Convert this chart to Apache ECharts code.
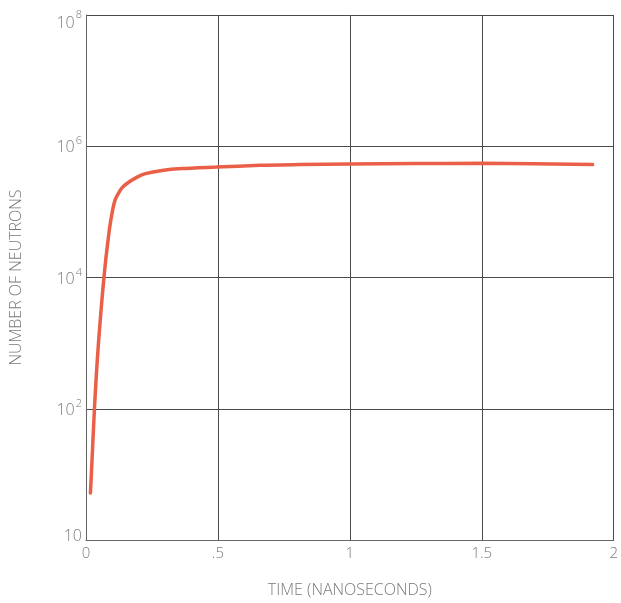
<!DOCTYPE html>
<html>
<head>
<meta charset="utf-8">
<script src="https://cdn.jsdelivr.net/npm/echarts@6/dist/echarts.min.js"></script>
<style>
html,body{margin:0;padding:0;background:#fff;}
#c{width:621px;height:603px;}
</style>
</head>
<body>
<div id="c"></div>
<script>
// Time in nanoseconds
var timeNs = [0.0168, 0.0243, 0.0318, 0.0393, 0.0467, 0.0542, 0.0609, 0.0673, 0.0748, 0.0822, 0.0897, 0.101, 0.110, 0.1196, 0.138, 0.163, 0.194, 0.225, 0.288, 0.363, 0.493, 0.66, 0.81, 1.0, 1.25, 1.5, 1.92];
// Number of neutrons
var neutrons = [5.2, 22, 97, 333, 933, 2280, 4860, 9330, 18600, 33300, 57700, 107000, 151000, 182000, 236000, 285000, 339000, 382000, 428000, 457000, 481000, 513000, 525000, 537000, 545000, 550000, 525000];
// Tick labels
var xTickValues = [0, 0.5, 1, 1.5, 2];
var xTickLabels = ['0', '.5', '1', '1.5', '2'];
var yTickExponents = [0, 2, 4, 6, 8];
var yTickBase = ['10', '10', '10', '10', '10'];
var yTickSup = ['', '2', '4', '6', '8'];

var FONT = 'Open Sans';
var GREY = '#7a7a7a';

var data = timeNs.map(function (t, i) { return [t, neutrons[i]]; });

var chart = echarts.init(document.getElementById('c'), null, {renderer: 'canvas'});
chart.setOption({
  backgroundColor: '#fff',
  animation: false,
  grid: {left: 83, right: 3, top: 15, bottom: 53, containLabel: false},
  xAxis: {
    type: 'value',
    min: 0, max: 2, interval: 0.5,
    name: 'TIME (NANOSECONDS)',
    nameLocation: 'middle',
    nameGap: 42,
    nameTextStyle: {color: GREY, fontSize: 16, fontFamily: FONT, fontWeight: 300},
    axisLine: {show: true, lineStyle: {color: '#666', width: 1}},
    axisTick: {show: false},
    splitLine: {show: true, lineStyle: {color: '#4a4a4a', width: 1}},
    axisLabel: {
      color: GREY, fontSize: 15, fontFamily: FONT, fontWeight: 300, margin: 6,
      formatter: function (v) {
        var i = xTickValues.indexOf(Math.round(v * 10) / 10);
        return i >= 0 ? xTickLabels[i] : '';
      }
    }
  },
  yAxis: {
    type: 'log',
    logBase: 100,
    min: 1, max: 1e8,
    name: 'NUMBER OF NEUTRONS',
    nameLocation: 'middle',
    nameGap: 62,
    nameTextStyle: {color: GREY, fontSize: 16, fontFamily: FONT, fontWeight: 300},
    axisLine: {show: true, lineStyle: {color: '#666', width: 1}},
    axisTick: {show: false},
    splitLine: {show: true, lineStyle: {color: '#4a4a4a', width: 1}},
    axisLabel: {
      color: GREY, fontSize: 16, fontFamily: FONT, fontWeight: 300, margin: 4,
      formatter: function (v) {
        var e = Math.round(Math.log10(v));
        var i = yTickExponents.indexOf(e);
        if (i < 0) return '';
        if (yTickSup[i] === '') return '{b0|' + yTickBase[i] + '}';
        if (e === 8) return '{bt|' + yTickBase[i] + '}{st|' + yTickSup[i] + '}';
        return '{b|' + yTickBase[i] + '}{s|' + yTickSup[i] + '}';
      },
      rich: {
        b: {color: GREY, fontSize: 16, fontFamily: FONT, fontWeight: 300, padding: [3, 0, 0, 0]},
        s: {color: GREY, fontSize: 11, fontFamily: FONT, fontWeight: 300, padding: [0, 0, 10, 1]},
        b0: {color: GREY, fontSize: 16, fontFamily: FONT, fontWeight: 300, padding: [0, 0, 8, 0]},
        bt: {color: GREY, fontSize: 16, fontFamily: FONT, fontWeight: 300, padding: [16, 0, 0, 0]},
        st: {color: GREY, fontSize: 11, fontFamily: FONT, fontWeight: 300, padding: [0, 0, 0, 1]}
      }
    }
  },
  series: [{
    type: 'line',
    data: data,
    smooth: 0.25,
    symbol: 'none',
    lineStyle: {color: '#ea5f48', width: 3.5, cap: 'round'}
  }]
});
</script>
</body>
</html>
